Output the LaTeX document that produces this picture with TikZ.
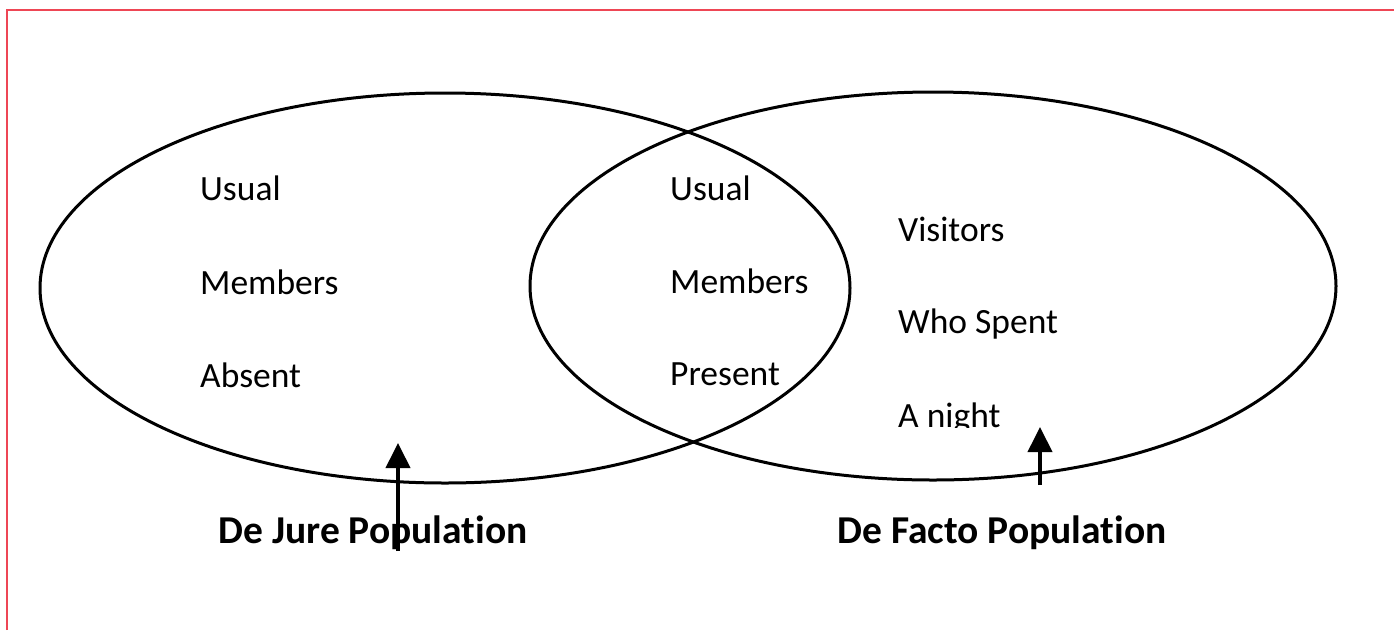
\documentclass[tikz,border=0pt]{standalone}
\usepackage{fontspec}
\setmainfont[Ligatures=NoCommon]{Carlito}
\usetikzlibrary{arrows.meta}
\definecolor{frame}{RGB}{238,70,85}
\tikzset{
  venn/.style={draw=black, line width=3pt},
  item/.style={anchor=base west, inner sep=0pt, font=\fontsize{35.5}{40}\selectfont},
  label/.style={anchor=base, inner sep=0pt, font=\fontsize{39.5}{44}\selectfont\bfseries},
  pointer/.style={line width=4pt, -{Triangle[width=24pt,length=25pt]}},
}
\begin{document}
\begin{tikzpicture}[x=1pt,y=-1pt]
\useasboundingbox (0,0) rectangle (1394,630);
\draw[frame, line width=1.2pt] (7,630) -- (7,10) -- (1394,10);
\draw[venn] (445,288) ellipse [x radius=405, y radius=195];
\draw[venn] (933,286) ellipse [x radius=403, y radius=194];
\node[item] (lu) at (200,200) {Usual};
\node[item] (lm) at (200,294) {Members};
\node[item] (la) at (200,387) {Absent};
\node[item] (mu) at (670,200) {Usual};
\node[item] (mm) at (670,293) {Members};
\node[item] (mp) at (670,385) {Present};
\node[item] (rv) at (898,241) {Visitors};
\node[item] (rw) at (898,333) {Who Spent};
\begin{scope}
\clip (880,380) rectangle (1100,427);
\node[item] (rn) at (898,427) {A night};
\end{scope}
\node[label] (dj) at (373,543) {De Jure Populat\kern0pt ion};
\node[label] (df) at (1002,543) {De Facto Populat\kern0pt ion};
\coordinate (a1s) at (398,551);
\coordinate (a1t) at (398,443);
\coordinate (a2s) at (1040,485);
\coordinate (a2t) at (1040,427);
\draw[pointer] (a1s) -- (a1t);
\draw[pointer] (a2s) -- (a2t);
\end{tikzpicture}
\end{document}
